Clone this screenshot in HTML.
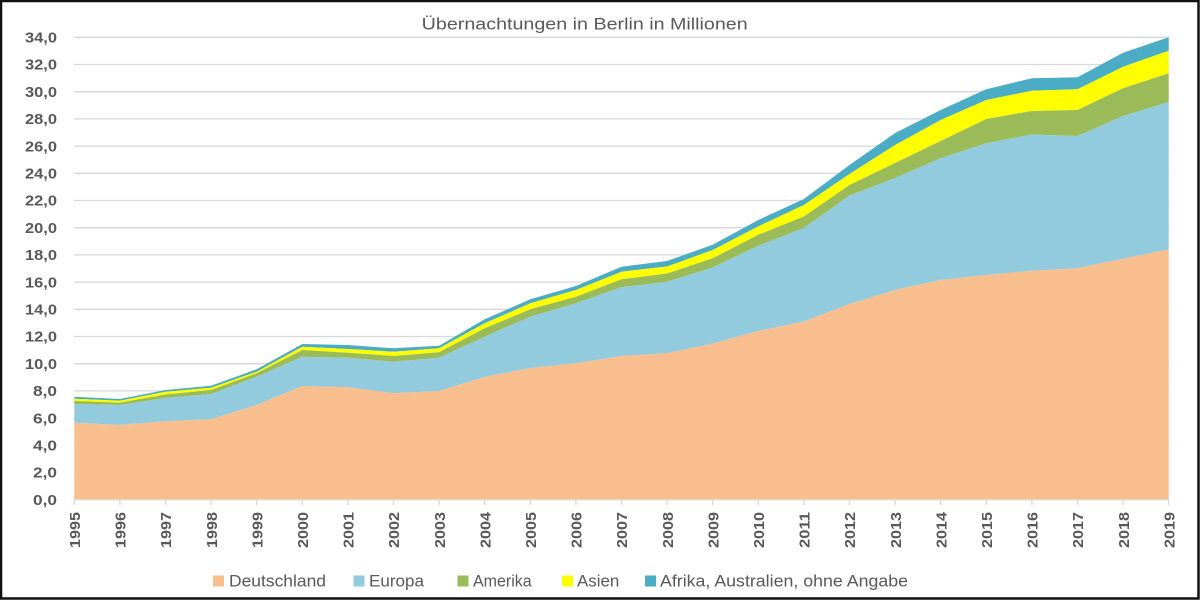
<!DOCTYPE html>
<html>
<head>
<meta charset="utf-8">
<style>
  html,body{margin:0;padding:0;background:#fff;}
  .wrap{position:relative;width:1200px;height:600px;overflow:hidden;background:#fff;}
  svg{position:absolute;left:0;top:0;}
  text{font-family:"Liberation Sans",Arial,sans-serif;fill:#595959;}
</style>
</head>
<body>
<div class="wrap">
<svg width="1200" height="600" viewBox="0 0 1200 600" xmlns="http://www.w3.org/2000/svg">
  <!-- frame -->
  <rect x="0" y="0" width="1200" height="600" fill="#fff"/>
  <rect x="1" y="1" width="1197.5" height="597.5" fill="none" stroke="#111" stroke-width="2.5"/>

  <!-- title -->
  <text x="421.7" y="29.3" font-size="17" textLength="326" lengthAdjust="spacingAndGlyphs">Übernachtungen in Berlin in Millionen</text>

  <!-- gridlines -->
  <g stroke="#D9D9D9" stroke-width="1.3">
    <line x1="74" x2="1169" y1="37.3" y2="37.3"/>
    <line x1="74" x2="1169" y1="64.5" y2="64.5"/>
    <line x1="74" x2="1169" y1="91.7" y2="91.7"/>
    <line x1="74" x2="1169" y1="118.9" y2="118.9"/>
    <line x1="74" x2="1169" y1="146.1" y2="146.1"/>
    <line x1="74" x2="1169" y1="173.3" y2="173.3"/>
    <line x1="74" x2="1169" y1="200.5" y2="200.5"/>
    <line x1="74" x2="1169" y1="227.7" y2="227.7"/>
    <line x1="74" x2="1169" y1="254.9" y2="254.9"/>
    <line x1="74" x2="1169" y1="282.1" y2="282.1"/>
    <line x1="74" x2="1169" y1="309.3" y2="309.3"/>
    <line x1="74" x2="1169" y1="336.5" y2="336.5"/>
    <line x1="74" x2="1169" y1="363.7" y2="363.7"/>
    <line x1="74" x2="1169" y1="390.9" y2="390.9"/>
    <line x1="74" x2="1169" y1="418.1" y2="418.1"/>
    <line x1="74" x2="1169" y1="445.3" y2="445.3"/>
    <line x1="74" x2="1169" y1="472.5" y2="472.5"/>
  </g>

  <!-- Afrika (teal) -->
  <polygon fill="#4BACC6" points="74.3,396.7 119.9,399 165.5,390 211.1,385.7 256.7,369.3 302.3,344 347.9,345 393.5,348.3 439.1,345.7 484.7,319.3 530.3,299.3 575.9,286 621.5,266.7 667.1,261 712.7,244.7 758.3,220 803.9,199 849.5,165 895.1,133 940.7,110 986.3,89.3 1031.9,78.3 1077.5,77.3 1123.1,52.7 1168.7,37.3 1168.7,50.7 1123.1,66.7 1077.5,89.3 1031.9,90.7 986.3,100 940.7,120 895.1,145 849.5,174 803.9,205 758.3,226.4 712.7,250 667.1,266.5 621.5,271.7 575.9,290 530.3,303.3 484.7,323.3 439.1,348.3 393.5,351.7 347.9,349 302.3,346.7 256.7,371.7 211.1,387.7 165.5,391.7 119.9,400.7 74.3,398.7"/>
  <!-- Asien (yellow) -->
  <polygon fill="#FFFF00" points="74.3,398.7 119.9,400.7 165.5,391.7 211.1,387.7 256.7,371.7 302.3,346.7 347.9,349 393.5,351.7 439.1,348.3 484.7,323.3 530.3,303.3 575.9,290 621.5,271.7 667.1,266.5 712.7,250 758.3,226.4 803.9,205 849.5,174 895.1,145 940.7,120 986.3,100 1031.9,90.7 1077.5,89.3 1123.1,66.7 1168.7,50.7 1168.7,73.3 1123.1,88.3 1077.5,110 1031.9,111 986.3,119 940.7,141 895.1,163 849.5,185 803.9,216.5 758.3,234.8 712.7,258.3 667.1,273.5 621.5,279.3 575.9,296.7 530.3,309.3 484.7,328.3 439.1,352.3 393.5,356 347.9,352.7 302.3,350 256.7,373.3 211.1,390 165.5,394.5 119.9,402.7 74.3,401"/>
  <!-- Amerika (green) -->
  <polygon fill="#9BBB59" points="74.3,401 119.9,402.7 165.5,394.5 211.1,390 256.7,373.3 302.3,350 347.9,352.7 393.5,356 439.1,352.3 484.7,328.3 530.3,309.3 575.9,296.7 621.5,279.3 667.1,273.5 712.7,258.3 758.3,234.8 803.9,216.5 849.5,185 895.1,163 940.7,141 986.3,119 1031.9,111 1077.5,110 1123.1,88.3 1168.7,73.3 1168.7,102 1123.1,116 1077.5,136 1031.9,134.5 986.3,143.3 940.7,158.3 895.1,178 849.5,195.5 803.9,228 758.3,245.8 712.7,267.5 667.1,281.7 621.5,287.3 575.9,303.3 530.3,316.7 484.7,336.7 439.1,357.7 393.5,361.7 347.9,357.7 302.3,356.7 256.7,376.7 211.1,394 165.5,398 119.9,405 74.3,404"/>
  <!-- Europa (light blue) -->
  <polygon fill="#92CBDD" points="74.3,404 119.9,405 165.5,398 211.1,394 256.7,376.7 302.3,356.7 347.9,357.7 393.5,361.7 439.1,357.7 484.7,336.7 530.3,316.7 575.9,303.3 621.5,287.3 667.1,281.7 712.7,267.5 758.3,245.8 803.9,228 849.5,195.5 895.1,178 940.7,158.3 986.3,143.3 1031.9,134.5 1077.5,136 1123.1,116 1168.7,102 1168.7,249.3 1123.1,258.7 1077.5,268.3 1031.9,270.7 986.3,275 940.7,280 895.1,290 849.5,304 803.9,321.5 758.3,331 712.7,343.5 667.1,353.3 621.5,356 575.9,363.3 530.3,368 484.7,377 439.1,391 393.5,393.3 347.9,387.3 302.3,386 256.7,405 211.1,419.3 165.5,421.3 119.9,425 74.3,422.7"/>
  <!-- Deutschland (orange) -->
  <polygon fill="#F8BE8E" points="74.3,422.7 119.9,425 165.5,421.3 211.1,419.3 256.7,405 302.3,386 347.9,387.3 393.5,393.3 439.1,391 484.7,377 530.3,368 575.9,363.3 621.5,356 667.1,353.3 712.7,343.5 758.3,331 803.9,321.5 849.5,304 895.1,290 940.7,280 986.3,275 1031.9,270.7 1077.5,268.3 1123.1,258.7 1168.7,249.3 1168.7,499.7 74.3,499.7"/>

  <!-- x axis line and ticks -->
  <g stroke="#D9D9D9" stroke-width="1.3">
    <line x1="74" x2="1169" y1="499.7" y2="499.7"/>
    <line x1="74.3" x2="74.3" y1="499.7" y2="505"/>
    <line x1="119.9" x2="119.9" y1="499.7" y2="505"/>
    <line x1="165.5" x2="165.5" y1="499.7" y2="505"/>
    <line x1="211.1" x2="211.1" y1="499.7" y2="505"/>
    <line x1="256.7" x2="256.7" y1="499.7" y2="505"/>
    <line x1="302.3" x2="302.3" y1="499.7" y2="505"/>
    <line x1="347.9" x2="347.9" y1="499.7" y2="505"/>
    <line x1="393.5" x2="393.5" y1="499.7" y2="505"/>
    <line x1="439.1" x2="439.1" y1="499.7" y2="505"/>
    <line x1="484.7" x2="484.7" y1="499.7" y2="505"/>
    <line x1="530.3" x2="530.3" y1="499.7" y2="505"/>
    <line x1="575.9" x2="575.9" y1="499.7" y2="505"/>
    <line x1="621.5" x2="621.5" y1="499.7" y2="505"/>
    <line x1="667.1" x2="667.1" y1="499.7" y2="505"/>
    <line x1="712.7" x2="712.7" y1="499.7" y2="505"/>
    <line x1="758.3" x2="758.3" y1="499.7" y2="505"/>
    <line x1="803.9" x2="803.9" y1="499.7" y2="505"/>
    <line x1="849.5" x2="849.5" y1="499.7" y2="505"/>
    <line x1="895.1" x2="895.1" y1="499.7" y2="505"/>
    <line x1="940.7" x2="940.7" y1="499.7" y2="505"/>
    <line x1="986.3" x2="986.3" y1="499.7" y2="505"/>
    <line x1="1031.9" x2="1031.9" y1="499.7" y2="505"/>
    <line x1="1077.5" x2="1077.5" y1="499.7" y2="505"/>
    <line x1="1123.1" x2="1123.1" y1="499.7" y2="505"/>
    <line x1="1168.7" x2="1168.7" y1="499.7" y2="505"/>
  </g>

  <!-- y axis labels -->
  <g font-size="15" font-weight="bold" text-anchor="end">
    <text x="57" y="42.5" textLength="32" lengthAdjust="spacingAndGlyphs">34,0</text>
    <text x="57" y="69.7" textLength="32" lengthAdjust="spacingAndGlyphs">32,0</text>
    <text x="57" y="96.9" textLength="32" lengthAdjust="spacingAndGlyphs">30,0</text>
    <text x="57" y="124.1" textLength="32" lengthAdjust="spacingAndGlyphs">28,0</text>
    <text x="57" y="151.3" textLength="32" lengthAdjust="spacingAndGlyphs">26,0</text>
    <text x="57" y="178.5" textLength="32" lengthAdjust="spacingAndGlyphs">24,0</text>
    <text x="57" y="205.7" textLength="32" lengthAdjust="spacingAndGlyphs">22,0</text>
    <text x="57" y="232.9" textLength="32" lengthAdjust="spacingAndGlyphs">20,0</text>
    <text x="57" y="260.1" textLength="32" lengthAdjust="spacingAndGlyphs">18,0</text>
    <text x="57" y="287.3" textLength="32" lengthAdjust="spacingAndGlyphs">16,0</text>
    <text x="57" y="314.5" textLength="32" lengthAdjust="spacingAndGlyphs">14,0</text>
    <text x="57" y="341.7" textLength="32" lengthAdjust="spacingAndGlyphs">12,0</text>
    <text x="57" y="368.9" textLength="32" lengthAdjust="spacingAndGlyphs">10,0</text>
    <text x="57" y="396.1" textLength="24" lengthAdjust="spacingAndGlyphs">8,0</text>
    <text x="57" y="423.3" textLength="24" lengthAdjust="spacingAndGlyphs">6,0</text>
    <text x="57" y="450.5" textLength="24" lengthAdjust="spacingAndGlyphs">4,0</text>
    <text x="57" y="477.7" textLength="24" lengthAdjust="spacingAndGlyphs">2,0</text>
    <text x="57" y="504.9" textLength="24" lengthAdjust="spacingAndGlyphs">0,0</text>
  </g>

  <!-- x axis labels (rotated) -->
  <g font-size="15" font-weight="bold" text-anchor="end">
    <text transform="translate(80,512) rotate(-90)" textLength="36" lengthAdjust="spacingAndGlyphs">1995</text>
    <text transform="translate(125.6,512) rotate(-90)" textLength="36" lengthAdjust="spacingAndGlyphs">1996</text>
    <text transform="translate(171.2,512) rotate(-90)" textLength="36" lengthAdjust="spacingAndGlyphs">1997</text>
    <text transform="translate(216.8,512) rotate(-90)" textLength="36" lengthAdjust="spacingAndGlyphs">1998</text>
    <text transform="translate(262.4,512) rotate(-90)" textLength="36" lengthAdjust="spacingAndGlyphs">1999</text>
    <text transform="translate(308,512) rotate(-90)" textLength="36" lengthAdjust="spacingAndGlyphs">2000</text>
    <text transform="translate(353.6,512) rotate(-90)" textLength="36" lengthAdjust="spacingAndGlyphs">2001</text>
    <text transform="translate(399.2,512) rotate(-90)" textLength="36" lengthAdjust="spacingAndGlyphs">2002</text>
    <text transform="translate(444.8,512) rotate(-90)" textLength="36" lengthAdjust="spacingAndGlyphs">2003</text>
    <text transform="translate(490.4,512) rotate(-90)" textLength="36" lengthAdjust="spacingAndGlyphs">2004</text>
    <text transform="translate(536,512) rotate(-90)" textLength="36" lengthAdjust="spacingAndGlyphs">2005</text>
    <text transform="translate(581.6,512) rotate(-90)" textLength="36" lengthAdjust="spacingAndGlyphs">2006</text>
    <text transform="translate(627.2,512) rotate(-90)" textLength="36" lengthAdjust="spacingAndGlyphs">2007</text>
    <text transform="translate(672.8,512) rotate(-90)" textLength="36" lengthAdjust="spacingAndGlyphs">2008</text>
    <text transform="translate(718.4,512) rotate(-90)" textLength="36" lengthAdjust="spacingAndGlyphs">2009</text>
    <text transform="translate(764,512) rotate(-90)" textLength="36" lengthAdjust="spacingAndGlyphs">2010</text>
    <text transform="translate(809.6,512) rotate(-90)" textLength="36" lengthAdjust="spacingAndGlyphs">2011</text>
    <text transform="translate(855.2,512) rotate(-90)" textLength="36" lengthAdjust="spacingAndGlyphs">2012</text>
    <text transform="translate(900.8,512) rotate(-90)" textLength="36" lengthAdjust="spacingAndGlyphs">2013</text>
    <text transform="translate(946.4,512) rotate(-90)" textLength="36" lengthAdjust="spacingAndGlyphs">2014</text>
    <text transform="translate(992,512) rotate(-90)" textLength="36" lengthAdjust="spacingAndGlyphs">2015</text>
    <text transform="translate(1037.6,512) rotate(-90)" textLength="36" lengthAdjust="spacingAndGlyphs">2016</text>
    <text transform="translate(1083.2,512) rotate(-90)" textLength="36" lengthAdjust="spacingAndGlyphs">2017</text>
    <text transform="translate(1128.8,512) rotate(-90)" textLength="36" lengthAdjust="spacingAndGlyphs">2018</text>
    <text transform="translate(1174.4,512) rotate(-90)" textLength="36" lengthAdjust="spacingAndGlyphs">2019</text>
  </g>

  <!-- legend -->
  <rect x="213" y="575.5" width="11" height="11" fill="#F8BE8E"/>
  <text x="229" y="586.7" font-size="17" textLength="97" lengthAdjust="spacingAndGlyphs">Deutschland</text>
  <rect x="353.5" y="575.5" width="11" height="11" fill="#92CBDD"/>
  <text x="369" y="586.7" font-size="17" textLength="55" lengthAdjust="spacingAndGlyphs">Europa</text>
  <rect x="457.5" y="575.5" width="11" height="11" fill="#9BBB59"/>
  <text x="473" y="586.7" font-size="17" textLength="58.7" lengthAdjust="spacingAndGlyphs">Amerika</text>
  <rect x="562" y="575.5" width="11" height="11" fill="#FFFF00"/>
  <text x="577" y="586.7" font-size="17" textLength="42.3" lengthAdjust="spacingAndGlyphs">Asien</text>
  <rect x="645" y="575.5" width="11" height="11" fill="#4BACC6"/>
  <text x="660" y="586.7" font-size="17" textLength="248" lengthAdjust="spacingAndGlyphs">Afrika, Australien, ohne Angabe</text>
</svg>
</div>
</body>
</html>
